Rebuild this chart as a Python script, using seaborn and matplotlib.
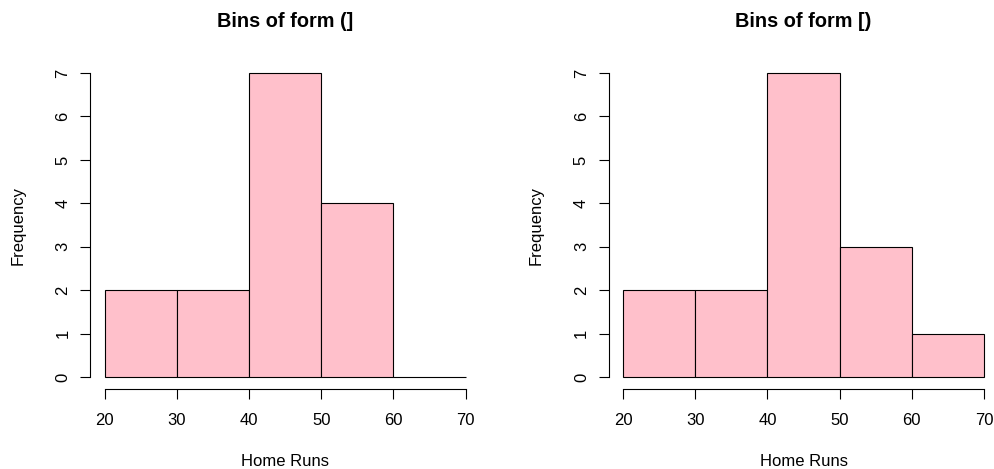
import matplotlib
matplotlib.use("Agg")
import matplotlib.pyplot as plt
import seaborn as sns
import numpy as np

# Data
bin_edges = [20, 30, 40, 50, 60, 70]
counts_left = [2, 2, 7, 4, 0]      # bins of form (]
counts_right = [2, 2, 7, 3, 1]     # bins of form [)
titles = ["Bins of form (]", "Bins of form [)"]
x_label = "Home Runs"
y_label = "Frequency"
x_ticks = [20, 30, 40, 50, 60, 70]
y_ticks = [0, 1, 2, 3, 4, 5, 6, 7]

sns.set_style("white")
plt.rcParams['font.family'] = ['Liberation Sans', 'DejaVu Sans']
plt.rcParams['text.color'] = 'black'
plt.rcParams['axes.labelcolor'] = 'black'

fig = plt.figure(figsize=(9.94, 4.69), dpi=100)
W, H = 994, 469
ax_w = (480.1 - 90.3) / W
ax_b = 1 - 389.4 / H
ax_h = (389.4 - 60.8) / H
lefts = [90.3 / W, 608.6 / W]

centers = [(bin_edges[i] + bin_edges[i + 1]) / 2 for i in range(len(bin_edges) - 1)]

for left, counts, title in zip(lefts, [counts_left, counts_right], titles):
    ax = fig.add_axes([left, ax_b, ax_w, ax_h])
    sns.histplot(x=centers, weights=counts, bins=bin_edges, ax=ax,
                 color="#FFC0CB", edgecolor="black", linewidth=0.8, alpha=1)
    ax.set_xlim(18, 72)
    ax.set_ylim(-0.28, 7.28)
    ax.set_xticks(x_ticks)
    ax.set_yticks(y_ticks)
    for s in ["top", "right"]:
        ax.spines[s].set_visible(False)
    ax.spines["left"].set_bounds(0, 7)
    ax.spines["bottom"].set_bounds(20, 70)
    for s in ["left", "bottom"]:
        ax.spines[s].set_color("black")
        ax.spines[s].set_linewidth(0.8)
    ax.tick_params(axis="both", direction="out", length=7.2, width=0.8,
                   color="black", labelsize=12, labelcolor="black",
                   bottom=True, left=True)
    ax.tick_params(axis="x", pad=10)
    ax.tick_params(axis="y", pad=7, labelrotation=90)
    for lab in ax.get_yticklabels():
        lab.set_va("center")
    ax.set_title(title, fontsize=14.3, fontweight="bold", pad=24.5, color="black")
    ax.set_xlabel(x_label, fontsize=12, color="black")
    ax.set_ylabel(y_label, fontsize=12, color="black")
    ax.xaxis.set_label_coords(0.5, -72.5 / (389.4 - 60.8))
    ax.xaxis.label.set_va("center")
    ax.yaxis.set_label_coords(-72.0 / (480.1 - 90.3), 0.5)
    ax.yaxis.label.set_va("center")
    ax.yaxis.label.set_ha("center")

fig.savefig("out.png", dpi=100)
